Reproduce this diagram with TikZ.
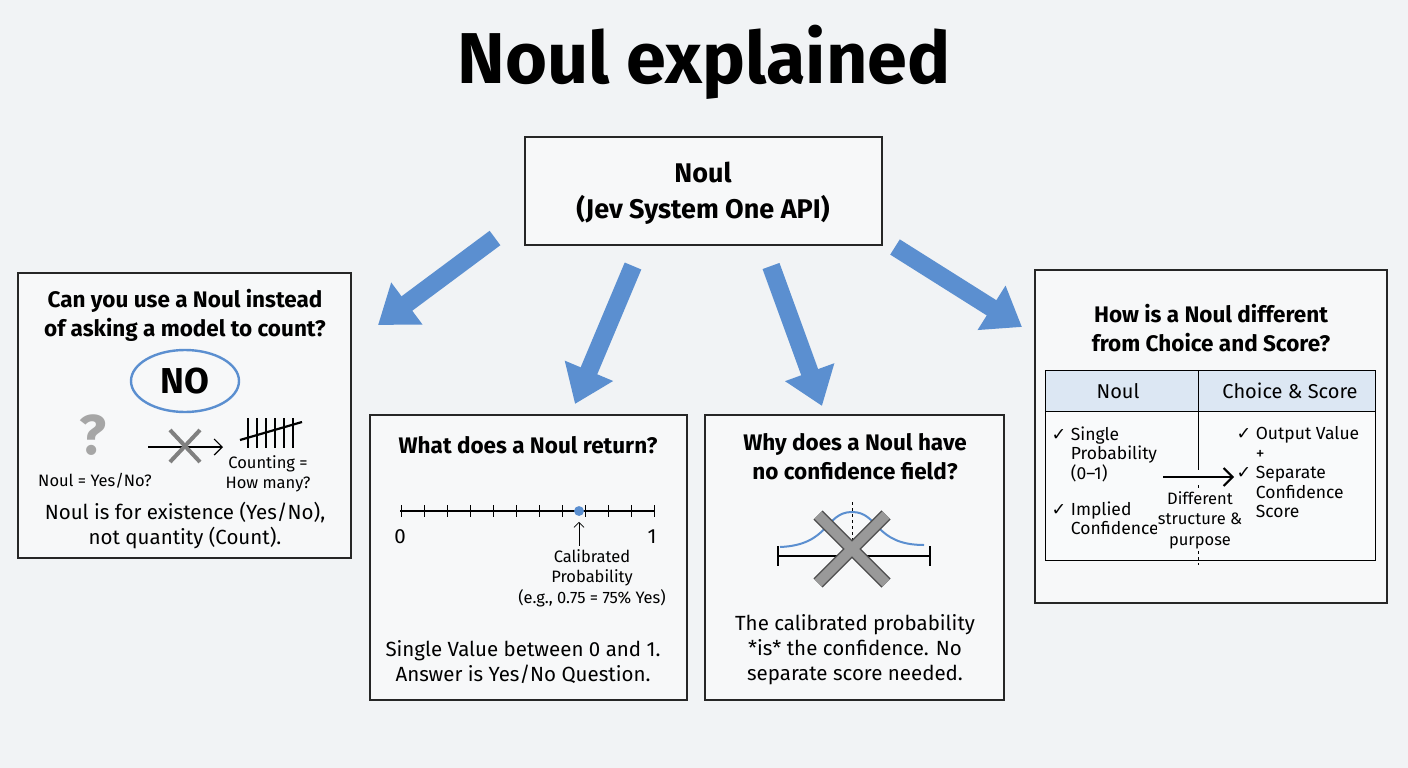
\documentclass[tikz,border=0pt]{standalone}
\usepackage{fontspec}
\setmainfont{Fira Sans}
\newfontfamily\symfont{DejaVu Sans}
\usetikzlibrary{arrows.meta,positioning}
\definecolor{paper}{HTML}{F1F3F5}
\definecolor{noulblue}{HTML}{5B8FD0}
\definecolor{headfill}{HTML}{DCE7F3}
\newcommand{\ck}{{\symfont\char"2713}\ }
\begin{document}
\begin{tikzpicture}[x=1pt,y=-1pt,
    panel/.style={draw=black!85,line width=1.6pt,fill=paper!60!white},
    big arrow/.style={draw=noulblue,line width=18pt,
        -{Triangle[length=36pt,width=50pt]}},
    head/.style={font=\fontsize{22.5}{29}\selectfont\bfseries,align=center},
    body/.style={font=\fontsize{20.5}{25}\selectfont,align=center},
    small/.style={font=\fontsize{16.5}{20.5}\selectfont,align=center},
    cell/.style={font=\fontsize{17.5}{19.5}\selectfont,align=left}]
  % background and frame
  \fill[paper] (0,0) rectangle (1408,768);
  \useasboundingbox (0,0) rectangle (1408,768);
  \node[font=\fontsize{72}{76}\selectfont\bfseries] (title) at (704,62) {Noul explained};

  % the panels
  \draw[panel] (525,137) rectangle (882,245);
  \node[font=\fontsize{27}{36}\selectfont\bfseries,align=center] (api) at (703,193) {Noul\\(Jev System One API)};
  \draw[panel] (18,273) rectangle (351,558);
  \draw[panel] (370,415) rectangle (687,700);
  \draw[panel] (705,415) rectangle (1004,700);
  \draw[panel] (1035,270) rectangle (1387,603);
  \coordinate (count) at (378,325);
  \coordinate (ret)   at (575,404);
  \coordinate (conf)  at (822,406);
  \coordinate (diff)  at (1022,327);

  % arrows from the top box
  \draw[big arrow] (495,238) -- (count);
  \draw[big arrow] (633,266) -- (ret);
  \draw[big arrow] (771,266) -- (conf);
  \draw[big arrow] (895,247) -- (diff);

  % panel 1: counting
  \node[head] (q1) at (185,315) {Can you use a Noul instead\\of asking a model to count?};
  \node[font=\fontsize{36}{38}\selectfont\bfseries] (no) at (185,381) {NO};
  \draw[noulblue,line width=2.4pt] (no) ellipse (54pt and 31pt);
  \node[font=\fontsize{56}{56}\selectfont\bfseries,text=gray!70] (qm) at (93,435) {?};
  \node[small] (yn) at (95,481) {Noul = Yes/No?};
  \node[inner sep=0pt,minimum width=58pt,minimum height=30pt] (tally) at (268,433) {};
  \foreach \i in {0,...,5}
    \draw[line width=2pt] (248+\i*9,418) -- (248+\i*9,448);
  \draw[line width=2.2pt] (240,440) -- (302,422);
  \node[small] (cnt) at (268,474) {Counting =\\How many?};
  \coordinate (tl) at (223,447);
  \draw[-{Straight Barb[length=8pt]},line width=1.2pt] (148,447) -- (tl);
  \draw[gray,line width=4pt] (170,430) -- (200,462) (170,462) -- (200,430);
  \node[body] (exist) at (185,526) {Noul is for existence (Yes/No),\\not quantity (Count).};

  % panel 2: what is returned
  \node[head] (q2) at (528,445) {What does a Noul return?};
  \draw[line width=1.3pt] (400,511) -- (655,511);
  \foreach \i in {0,...,11}
    \draw[line width=1pt] (401+\i*23,505) -- (401+\i*23,517);
  \node[circle,fill=noulblue,inner sep=3.5pt] (dot) at (579,511) {};
  \node[body] (zero) at (400,537) {0};
  \node[body] (one) at (652,537) {1};
  \node[small] (calib) at (592,578) {Calibrated\\Probability\\(e.g., 0.75 = 75\% Yes)};
  \draw[-{Straight Barb[length=5pt]},line width=0.8pt] (calib.north -| dot) -- ++(0,-24);
  \node[body] (single) at (523,662) {Single Value between 0 and 1.\\Answer is Yes/No Question.};

  % panel 3: no confidence field
  \node[head] (q3) at (855,457) {Why does a Noul have\\no confidence field?};
  \draw[line width=1.5pt] (778,556) -- (930,556);
  \draw[line width=1.5pt] (778,546) -- (778,566) (930,546) -- (930,566);
  \draw[noulblue,line width=2pt] (780,547) .. controls (830,545) and (825,512) .. (852,512)
      .. controls (879,512) and (874,545) .. (924,545);
  \draw[dashed,line width=1pt] (852,502) -- (852,552);
  \draw[black!70,line width=13pt] (818,515) -- (886,583) (886,515) -- (818,583);
  \draw[gray!80,line width=10pt] (818,515) -- (886,583) (886,515) -- (818,583);
  \node[body] (calprob) at (855,650) {The calibrated probability\\*is* the confidence. No\\separate score needed.};

  % panel 4: comparison table
  \node[head] (q4) at (1211,328) {How is a Noul different\\from Choice and Score?};
  \draw[line width=1pt,fill=paper!40!white] (1045,370) rectangle (1375,560);
  \draw[line width=1pt,fill=headfill] (1045,370) rectangle (1375,411);
  \draw[line width=1pt] (1198,370) -- (1198,470);
  \draw[dashed,line width=1pt] (1198,485) -- (1198,565);
  \node[font=\fontsize{20}{22}\selectfont] (hnoul) at (1118,391) {Noul};
  \node[font=\fontsize{20}{22}\selectfont] (hcs) at (1290,391) {Choice \& Score};
  \node[cell,anchor=north west] (sp) at (1048,423) {\ck Single\\\phantom{\ck}Probability\\\phantom{\ck}(0--1)};
  \node[cell,anchor=north west] (ic) at (1048,498) {\ck Implied\\\phantom{\ck}Confidence};
  \node[cell,anchor=north west] (ov) at (1233,423) {\ck Output Value\\\phantom{\ck}+\\\ck Separate\\\phantom{\ck}Confidence\\\phantom{\ck}Score};
  \node[small,fill=paper!40!white,inner sep=1pt] (dsp) at (1200,520) {Different\\structure \&\\purpose};
  \coordinate (from) at (1163,477);
  \coordinate (to) at (1234,477);
  \draw[-{Straight Barb[length=9pt]},line width=2pt] (from) -- (to);
\end{tikzpicture}
\end{document}
